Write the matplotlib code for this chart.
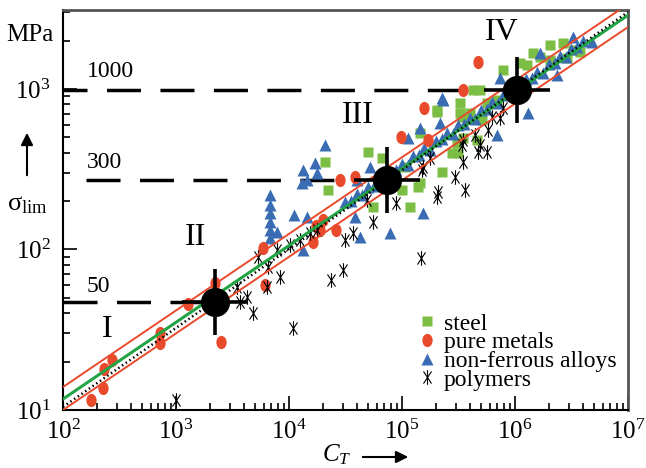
import numpy as np
import matplotlib
matplotlib.use('Agg')
import matplotlib.pyplot as plt
from matplotlib.path import Path
from matplotlib.patches import FancyArrowPatch
from matplotlib.ticker import LogLocator, FuncFormatter, NullFormatter

plt.rcParams['font.family'] = ['Liberation Serif', 'DejaVu Serif']
plt.rcParams['mathtext.fontset'] = 'custom'
plt.rcParams['mathtext.rm'] = 'Liberation Serif'
plt.rcParams['mathtext.it'] = 'Liberation Serif:italic'

# ---- data ----
# steel (green squares)
steel_C = [2.08e4, 2.21e4, 5.0e4, 6.65e4, 5.54e4, 1.0e5, 1.18e5, 1.39e5, 1.44e5, 2.04e5,
           3.13e5, 3.47e5, 1.06e5, 3.26e5, 3.26e5, 4.0e5, 4.25e5, 5.11e5, 5.65e5, 1.28e6,
           1.66e6, 2.04e6, 2.66e6, 3.26e6, 3.76e6, 4.61e5, 2.26e5, 1.44e5, 2.77e5, 2.04e5,
           6.93e5, 4.90e5, 1.11e6, 1.44e6, 7.83e5, 2.04e6, 2.88e6, 3.40e5, 3.07e5]
steel_s = [351, 235, 405, 372, 184, 235, 184, 245, 532, 719,
           399, 495, 327, 708, 818, 708, 986, 641, 818, 1411,
           1582, 1880, 1935, 1750, 1701, 481, 304, 259, 399, 740,
           854, 986, 1452, 1675, 1312, 1517, 1561, 669, 461]

# pure metals (red circles)
metal_C = [177, 226, 231, 272, 721, 721, 1277, 2500, 2213, 5890,
           6140, 1.63e4, 1.88e4, 2.0e4, 2.61e4, 2.83e4, 3.84e4, 9.8e4, 1.57e5, 3.47e5,
           4.71e5, 1.70e5, 1.75e4]
metal_s = [11.5, 13.7, 18.0, 20.5, 30.2, 26.1, 45.7, 26.5, 61.8, 102,
           60.0, 111, 132, 153, 132, 271, 283, 503, 762, 986,
           1472, 481, 140]

# non-ferrous alloys (blue triangles)
alloy_C = [6790, 6790, 6790, 6790, 6790, 6790, 1.11e4, 1.44e4, 1.33e4, 1.70e4,
           2.08e4, 1.44e4, 1.30e4, 1.77e4, 1.33e4, 7830, 7.83e4, 4.25e4, 3.84e4, 5.21e4,
           1.44e5, 2.26e5, 2.17e5, 1.13e5, 1.54e5, 4.0e4, 7.36e5, 1.30e6, 2.31e5, 1.66e6,
           3.26e6, 4.80e6, 2.35e6, 6.93e5,
           3.16e4, 3.98e4, 5.0e4, 6.3e4, 1.0e5, 1.26e5, 1.58e5, 2.0e5, 2.51e5, 3.16e5,
           3.98e5, 5.0e5, 6.3e5, 7.9e5, 1.26e6, 1.58e6, 2.0e6, 2.51e6, 3.16e6, 3.98e6,
           4.47e4, 7.08e4, 1.12e5, 1.78e5, 2.82e5, 4.47e5, 7.08e5, 1.12e6, 1.78e6, 2.82e6,
           3.55e4, 5.62e4, 8.91e4, 1.41e5, 2.24e5, 3.55e5, 5.62e5, 8.91e5, 1.41e6, 2.24e6,
           3.55e6]
alloy_s = [219, 189, 169, 148, 132, 118, 164, 159, 313, 346,
           448, 271, 259, 300, 99.3, 129, 127, 120, 159, 327,
           572, 879, 614, 495, 169, 271, 1172, 708, 854, 1675,
           2110, 1964, 1222, 516,
           197, 220, 245, 274, 341, 381, 426, 474, 530, 592,
           661, 738, 823, 918, 1146, 1279, 1426, 1592, 1778, 1986,
           217, 270, 337, 419, 522, 651, 811, 1012, 1259, 1570,
           201, 250, 312, 389, 484, 604, 752, 938, 1169, 1456,
           1815]

# polymers (black asterisks)
poly_C = [1000, 4800, 1.08e4, 3683, 6390, 8320, 2.35e4, 3.0e4, 1.47e5, 3.13e4,
          3.68e4, 6520, 5320, 4249, 3467, 7830, 1.02e4, 1.25e4, 1.53e4, 1.77e4,
          5.54e4, 8.85e4, 2.04e5, 2.94e5, 3.61e5, 3.47e5, 3.47e5, 4.9e4, 1.54e5, 1.77e5,
          3.40e5, 4.43e5, 5.77e5, 6.26e5, 7.36e5, 7.83e5, 4.90e5, 2.08e5, 4.71e5, 5.65e5,
          1.50e5]
poly_s = [11.5, 40.2, 32.5, 47.1, 58.4, 67.4, 64.6, 74.5, 88.5, 115,
          127, 77.8, 89.8, 50.6, 58.4, 99.3, 107, 115, 127, 132,
          148, 195, 212, 283, 235, 351, 481, 203, 327, 372,
          448, 516, 556, 669, 659, 762, 448, 228, 405, 405,
          313]

# fit lines (values at C = 1e2 and 1e7)
fit_C = [1e2, 1e7]
fit_red_upper = [13.9, 3373]
fit_green = [11.7, 2877]
fit_dotted = [10.45, 3013]
fit_red_lower = [10.0, 2427]

# characteristic points I-IV
key_C = [2213, 7.36e4, 1.04e6]
key_s = [47.1, 271, 986]

# horizontal limit levels
level_s = [47.1, 271, 986]
level_start = [100, 160, 81]
level_end = [1630, 2.66e4, 3.47e5]
level_text = ['50', '300', '1000']
level_text_C = [204, 235, 261]
level_text_s = [58.4, 346, 1276]

roman = ['I', 'II', 'III', 'IV']
roman_C = [245, 1500, 4.07e4, 7.7e5]
roman_s = [31.5, 118, 679, 2233]

# ---- colours ----
c_green = '#7cbd43'
c_red = '#ea4a2c'
c_blue = '#3a6cb4'
c_line_green = '#22a444'

# custom markers
circ = Path.unit_circle()
ellipse = Path(circ.vertices * np.array([0.78, 1.0]), circ.codes)
a = 0.55
b = 0.835
star = Path([(0, -1), (0, 1), (-a, -b), (a, b), (-a, b), (a, -b)],
            [Path.MOVETO, Path.LINETO, Path.MOVETO, Path.LINETO, Path.MOVETO, Path.LINETO])

fig = plt.figure(figsize=(6.46, 4.68), dpi=100)
ax = fig.add_axes([63 / 646, 58 / 468, 565 / 646, 400 / 468])
ax.set_xscale('log')
ax.set_yscale('log')
ax.set_xlim(1e2, 1e7)
ax.set_ylim(10, 3100)

ax.plot(steel_C, steel_s, linestyle='none', marker='s', markersize=7.4,
        color=c_green, mec='none', label='steel', zorder=2)
ax.plot(metal_C, metal_s, linestyle='none', marker=ellipse, markersize=9.5,
        color=c_red, mec='none', label='pure metals', zorder=2.2)
ax.plot(alloy_C, alloy_s, linestyle='none', marker='^', markersize=8,
        color=c_blue, mec='none', label='non-ferrous alloys', zorder=2.1)
ax.plot(poly_C, poly_s, linestyle='none', marker=star, markersize=10.5,
        color='black', mew=0.8, fillstyle='none', label='polymers', zorder=2.3)

# regression lines
ax.plot(fit_C, fit_red_upper, color=c_red, lw=1.4, zorder=3)
ax.plot(fit_C, fit_red_lower, color=c_red, lw=1.4, zorder=3)
ax.plot(fit_C, fit_green, color=c_line_green, lw=2.2, zorder=3.1)
ax.plot(fit_C, fit_dotted, color='black', lw=1.8, linestyle=(0, (0.6, 1.2)), zorder=3.2)

# limit levels
for s, x0, x1 in zip(level_s, level_start, level_end):
    ax.plot([x0, x1], [s, s], color='black', lw=2.5,
            linestyle=(0, (9.8, 5.6)), solid_capstyle='butt', zorder=1.9)
for t, x, y in zip(level_text, level_text_C, level_text_s):
    ax.text(x, y, t, fontsize=17, ha='center', va='center')

# characteristic points
ax.plot(key_C, key_s, linestyle='none', marker='+', markersize=47, mew=2.6,
        color='black', zorder=5)
ax.plot(key_C, key_s, linestyle='none', marker='o', markersize=21,
        color='black', mec='none', zorder=5)

for t, x, y in zip(roman, roman_C, roman_s):
    ax.text(x, y, t, fontsize=23, ha='center', va='center')

# axes styling
pow_fmt = FuncFormatter(lambda v, pos: r'$\mathrm{10^{%d}}$' % round(np.log10(v)))
ax.xaxis.set_major_locator(LogLocator(base=10, numticks=10))
ax.yaxis.set_major_locator(LogLocator(base=10, numticks=10))
ax.xaxis.set_minor_locator(LogLocator(base=10, subs=np.arange(2, 10), numticks=20))
ax.yaxis.set_minor_locator(LogLocator(base=10, subs=np.arange(2, 10), numticks=20))
ax.xaxis.set_major_formatter(pow_fmt)
ax.yaxis.set_major_formatter(pow_fmt)
ax.xaxis.set_minor_formatter(NullFormatter())
ax.yaxis.set_minor_formatter(NullFormatter())
ax.tick_params(which='both', direction='in', top=False, right=False, labelsize=18, width=1.2)
ax.tick_params(which='major', length=10)
ax.tick_params(which='minor', length=5)
ax.tick_params(axis='x', pad=7)
ax.tick_params(axis='y', pad=9)
for side in ['left', 'bottom']:
    ax.spines[side].set_linewidth(1.5)
    ax.spines[side].set_color('black')
for side in ['top', 'right']:
    ax.spines[side].set_linewidth(2)
    ax.spines[side].set_color('#555555')

leg = ax.legend(loc='upper left', bbox_to_anchor=(419 / 646, 1 - 313 / 468),
                bbox_transform=fig.transFigure, frameon=False, fontsize=17,
                borderpad=0, handlelength=0.7, handletextpad=0.35,
                labelspacing=-0.12, borderaxespad=0, numpoints=1)

# axis titles
fig.text(29.5 / 646, 1 - 35 / 468, 'MPa', fontsize=18, ha='center', va='center')
fig.text(27 / 646, 1 - 205 / 468, r'$\mathrm{σ}_{\mathrm{lim}}$', fontsize=19,
         ha='center', va='center')
fig.patches.append(FancyArrowPatch(
    (27 / 646, 1 - 178 / 468), (27 / 646, 1 - 130 / 468), transform=fig.transFigure,
    arrowstyle='-|>', mutation_scale=18, lw=1.5, color='black'))
fig.text(337 / 646, 1 - 455 / 468, r'$C_T$', fontsize=18, ha='center', va='center')
fig.patches.append(FancyArrowPatch(
    (360 / 646, 1 - 457 / 468), (411 / 646, 1 - 457 / 468), transform=fig.transFigure,
    arrowstyle='-|>', mutation_scale=18, lw=1.5, color='black'))

plt.savefig('out.png', dpi=100)
